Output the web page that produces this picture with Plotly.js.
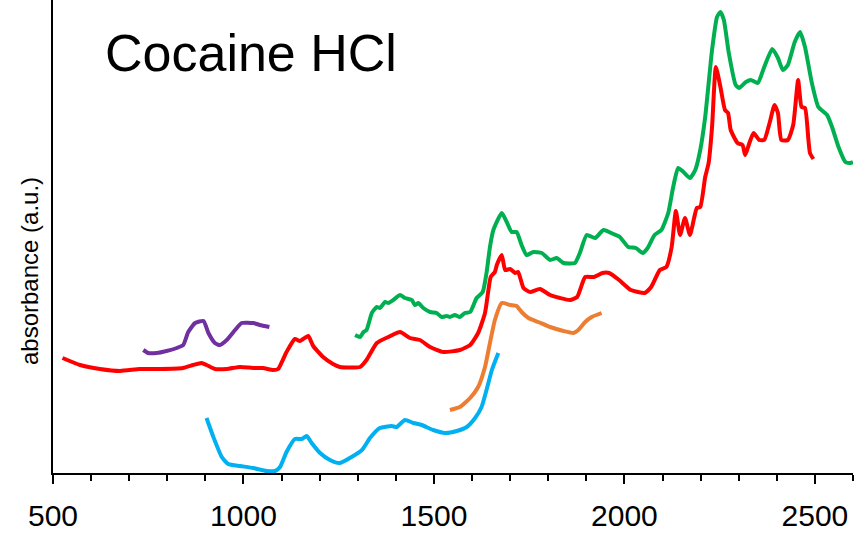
<!DOCTYPE html>
<html>
<head>
<meta charset="utf-8">
<script src="https://cdn.plot.ly/plotly-3.0.1.min.js"></script>
<style>html,body{margin:0;padding:0;background:#fff;}#chart{width:856px;height:534px;}</style>
</head>
<body>
<div id="chart"></div>
<script>
// Wavenumber-like x values and relative absorbance (arbitrary units)
const redX = [525,571,623,676,728,781,841,868,890,903,925,956,991,1025,1051,1078,1091,1113,1135,1148,1170,1183,1209,1235,1253,1306,1323,1350,1380,1411,1437,1463,1490,1525,1568,1595,1616,1634,1643,1649,1660,1665,1678,1687,1700,1713,1721,1735,1752,1778,1805,1831,1857,1876,1897,1920,1942,1960,1986,2017,2053,2070,2093,2110,2124,2135,2146,2159,2172,2190,2199,2212,2221,2230,2240,2252,2264,2272,2279,2297,2310,2317,2328,2339,2354,2367,2381,2394,2403,2412,2429,2443,2456,2465,2474,2483,2487,2496];
const redY = [1.15,1.08,1.04,1.02,1.04,1.04,1.05,1.08,1.10,1.08,1.04,1.04,1.06,1.05,1.05,1.03,1.04,1.21,1.34,1.32,1.37,1.27,1.16,1.09,1.06,1.06,1.13,1.30,1.36,1.41,1.35,1.33,1.26,1.21,1.23,1.28,1.40,1.60,1.83,1.96,2.01,2.08,2.18,2.03,2.04,2.00,2.01,1.85,1.81,1.84,1.78,1.75,1.73,1.76,1.96,1.96,2.00,2.00,1.93,1.83,1.80,1.86,2.03,2.06,2.26,2.62,2.38,2.55,2.38,2.65,2.66,2.96,3.10,3.46,4.06,3.86,3.63,3.60,3.43,3.30,3.28,3.18,3.30,3.40,3.33,3.33,3.50,3.68,3.60,3.33,3.33,3.48,3.93,3.66,3.65,3.33,3.20,3.14];

const greenX = [1293,1306,1315,1323,1337,1350,1358,1372,1380,1393,1411,1424,1442,1450,1459,1472,1490,1507,1520,1533,1542,1555,1568,1581,1595,1612,1628,1638,1647,1656,1678,1691,1704,1717,1730,1743,1761,1783,1805,1822,1840,1870,1883,1901,1923,1945,1971,1988,2010,2030,2048,2061,2079,2097,2115,2128,2141,2155,2172,2186,2199,2212,2230,2243,2252,2261,2274,2292,2301,2319,2332,2350,2367,2388,2403,2416,2429,2447,2461,2474,2492,2509,2532,2545,2562,2580,2593,2600];
const greenY = [1.38,1.36,1.41,1.43,1.60,1.66,1.65,1.71,1.70,1.73,1.78,1.75,1.73,1.68,1.70,1.65,1.61,1.60,1.56,1.57,1.56,1.58,1.56,1.60,1.61,1.75,1.81,2.00,2.26,2.43,2.60,2.51,2.41,2.41,2.28,2.18,2.21,2.20,2.13,2.15,2.10,2.10,2.20,2.38,2.35,2.43,2.39,2.36,2.26,2.25,2.20,2.25,2.38,2.43,2.60,2.86,3.05,3.01,2.95,3.03,3.23,3.56,4.23,4.56,4.61,4.53,4.20,3.88,3.85,3.91,3.93,3.90,4.06,4.24,4.15,4.03,4.08,4.31,4.41,4.26,3.90,3.66,3.58,3.46,3.26,3.11,3.10,3.11];

const purpleX = [737,750,772,798,825,842,855,873,895,908,925,938,956,978,995,1026,1043,1068];
const purpleY = [1.23,1.20,1.20,1.22,1.25,1.28,1.41,1.50,1.52,1.40,1.30,1.28,1.33,1.43,1.50,1.50,1.48,1.46];

const blueX = [903,921,943,960,991,1026,1061,1083,1096,1113,1135,1153,1166,1179,1201,1227,1253,1311,1332,1358,1389,1402,1424,1446,1468,1498,1529,1560,1586,1608,1625,1638,1652,1669];
const blueY = [0.55,0.36,0.16,0.09,0.07,0.05,0.02,0.02,0.06,0.21,0.34,0.34,0.37,0.30,0.20,0.13,0.10,0.23,0.35,0.45,0.47,0.46,0.53,0.50,0.48,0.43,0.40,0.42,0.46,0.55,0.66,0.83,1.03,1.20];

const orangeX = [1542,1568,1595,1616,1634,1647,1660,1678,1700,1717,1730,1748,1774,1805,1840,1866,1879,1897,1914,1940];
const orangeY = [0.63,0.66,0.75,0.86,1.06,1.30,1.53,1.70,1.68,1.67,1.61,1.55,1.51,1.46,1.42,1.40,1.43,1.51,1.56,1.60];

const xTickVals = [500,1000,1500,2000,2500];
const xTickText = ['500','1000','1500','2000','2500'];
const chartTitle = 'Cocaine HCl';
const yTitle = 'absorbance (a.u.)';

function tr(x, y, color) {
  return {x: x, y: y, type: 'scatter', mode: 'lines',
    line: {color: color, width: 4, shape: 'spline', smoothing: 0.5},
    hoverinfo: 'skip', showlegend: false};
}

const data = [
  tr(redX, redY, '#FF0000'),
  tr(greenX, greenY, '#00B050'),
  tr(purpleX, purpleY, '#7030A0'),
  tr(blueX, blueY, '#00B0F0'),
  tr(orangeX, orangeY, '#ED7D31')
];

const layout = {
  width: 856, height: 534,
  margin: {l: 53, r: 3, t: 0, b: 61},
  paper_bgcolor: '#fff', plot_bgcolor: '#fff',
  font: {family: 'Liberation Sans, Arial, sans-serif', color: '#000'},
  xaxis: {
    range: [500, 2600], showgrid: false, zeroline: false,
    showline: true, linecolor: '#000', linewidth: 2,
    ticks: 'outside', ticklen: 9, tickwidth: 2, tickcolor: '#000',
    tickvals: xTickVals, ticktext: xTickText, ticklabelstandoff: 6,
    tickfont: {size: 30, family: 'Liberation Sans, Arial, sans-serif', color: '#000'},
    minor: {dtick: 100, tick0: 500, ticks: 'outside', ticklen: 6, tickwidth: 2, tickcolor: '#000', showgrid: false}
  },
  yaxis: {
    range: [0, 4.73], showgrid: false, zeroline: false,
    showline: true, linecolor: '#000', linewidth: 2,
    showticklabels: false, ticks: ''
  },
  annotations: [
    {text: chartTitle, xref: 'paper', yref: 'paper', x: 0.062, y: 0.887,
     xanchor: 'left', yanchor: 'middle', showarrow: false,
     font: {size: 52, family: 'Liberation Sans, Arial, sans-serif', color: '#000'}},
    {text: yTitle, xref: 'paper', yref: 'paper', x: -0.03, y: 0.427,
     xanchor: 'center', yanchor: 'middle', showarrow: false, textangle: -90,
     font: {size: 24, family: 'Liberation Sans, Arial, sans-serif', color: '#000'}}
  ]
};

Plotly.newPlot('chart', data, layout, {staticPlot: true, displayModeBar: false});
</script>
</body>
</html>
